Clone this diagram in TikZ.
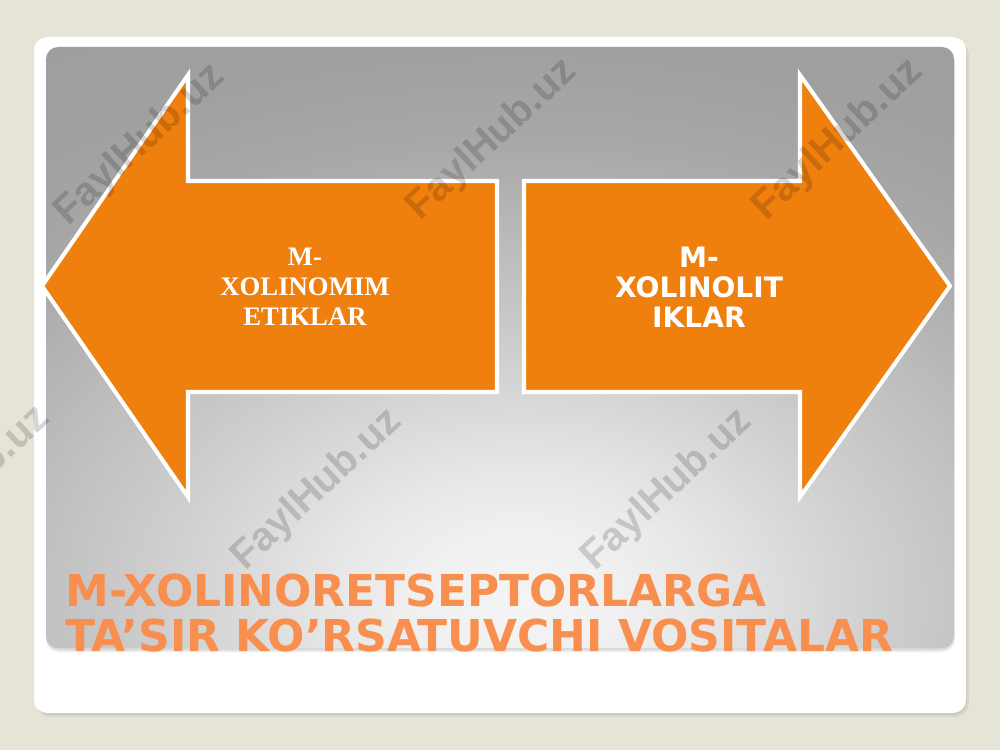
\documentclass[tikz,border=0pt]{standalone}
\usepackage{fontspec}
\setmainfont{Liberation Serif}
\newfontfamily\dejavu{DejaVu Sans}
\newfontfamily\libsans{Liberation Sans}
\definecolor{bgbeige}{RGB}{230,227,215}
\definecolor{arroworange}{RGB}{240,128,14}
\definecolor{titleorange}{RGB}{248,143,78}
\definecolor{shA}{RGB}{244,244,244}
\definecolor{shB}{RGB}{240,240,240}
\definecolor{shC}{RGB}{232,232,232}
\definecolor{shD}{RGB}{208,208,208}
\definecolor{shE}{RGB}{168,168,168}
\definecolor{shF}{RGB}{160,160,160}
\definecolor{shG}{RGB}{154,154,154}
\pgfdeclareradialshading{panelshade}{\pgfpoint{0bp}{0bp}}{color(0bp)=(shA); color(2bp)=(shB); color(3.6bp)=(shC); color(7bp)=(shD); color(13.5bp)=(shE); color(16.2bp)=(shF); color(25bp)=(shG); color(50bp)=(shG)}
\tikzset{
  bigarrow/.style={fill=arroworange, draw=white, line width=2.3pt, line join=miter},
  lefttext/.style={text=white, align=center, font=\fontsize{15.2}{17}\selectfont\bfseries},
  righttext/.style={text=white, align=center, font=\fontsize{16}{17}\selectfont\dejavu\bfseries},
  titletext/.style={text=titleorange, anchor=base west, inner sep=0pt, font=\fontsize{25}{25.5}\selectfont\dejavu\bfseries},
  watermark/.style={text=black, opacity=0.16, rotate=43, font=\fontsize{23}{25}\selectfont\libsans\bfseries}
}
\begin{document}
\begin{tikzpicture}[x=0.02cm,y=-0.02cm]
\useasboundingbox (0,0) rectangle (1000,750);
\fill[bgbeige] (0,0) rectangle (1000,750);
% card shadow
\fill[black, opacity=0.06, rounded corners=0.3cm] (36,41) rectangle (969,717);
\fill[black, opacity=0.06, rounded corners=0.3cm] (35,39) rectangle (967,715);
% white card
\fill[white, rounded corners=0.26cm] (34,37) rectangle (966,713);
% panel shadow
\fill[black, opacity=0.08, rounded corners=0.26cm] (46,49) rectangle (955,652);
\fill[black, opacity=0.08, rounded corners=0.26cm] (46,48) rectangle (954,650);
% gradient panel
\begin{scope}
  \clip[rounded corners=0.24cm] (46,47) rectangle (954,648);
  \shade[shading=panelshade] (520,600) ellipse [x radius=1250, y radius=850];
\end{scope}
% arrows
\draw[bigarrow] (42,286) -- (188,75) -- (188,181) -- (497,181) -- (497,392) -- (188,392) -- (188,497) -- cycle;
\draw[bigarrow] (950,286) -- (800,75) -- (800,181) -- (524,181) -- (524,392) -- (800,392) -- (800,497) -- cycle;
\node[lefttext] (lt) at (305,287) {M-\\XOLINOMIM\\ETIKLAR};
\node[righttext] (rt) at (699,287) {M-\\XOLINOLIT\\IKLAR};
% title
\node[titletext] (t1) at (65,606) {M-XOLINORETSEPTORLARGA};
\node[titletext] (t2) at (65,651) {TA’SIR KO’RSATUVCHI VOSITALAR};
% watermarks
\node[watermark] (w1) at (140,145) {FaylHub.uz};
\node[watermark] (w2) at (492,140) {FaylHub.uz};
\node[watermark] (w3) at (838,140) {FaylHub.uz};
\node[watermark] (w4) at (-35,487) {FaylHub.uz};
\node[watermark] (w5) at (317,490) {FaylHub.uz};
\node[watermark] (w6) at (667,490) {FaylHub.uz};
\end{tikzpicture}
\end{document}
